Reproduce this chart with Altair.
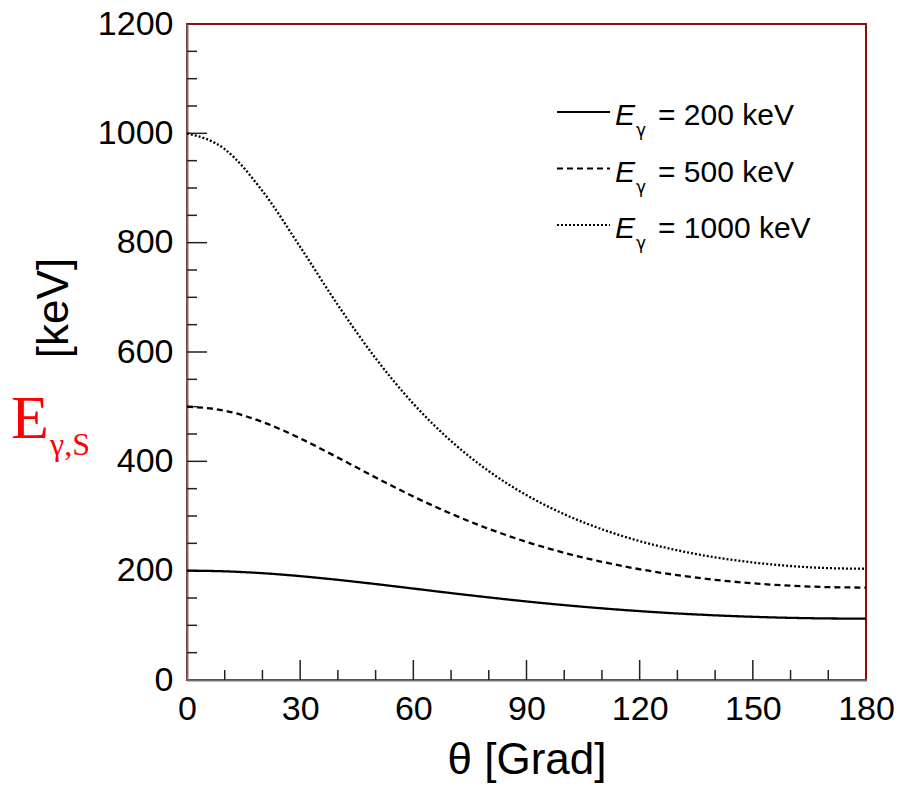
import altair as alt
import pandas as pd

# ---- data ----
theta = [0, 10, 20, 30, 40, 50, 60, 70, 80, 90, 100, 110, 120, 130, 140, 150, 160, 170, 180]
e200 = [200, 198.8, 195.4, 190.0, 183.2, 175.5, 167.3, 159.0, 151.1, 143.7, 137.0, 131.1,
        126.0, 121.7, 118.3, 115.6, 113.7, 112.6, 112.2]
e500 = [500, 492.7, 472.1, 442.0, 406.8, 370.5, 335.7, 304.2, 276.5, 252.7, 232.7, 216.2,
        202.6, 191.8, 183.3, 176.9, 172.5, 169.9, 169.1]
e1000 = [1000, 971.1, 894.5, 792.3, 685.9, 588.6, 505.4, 437.1, 382.1, 338.2, 303.3, 275.8,
         254.1, 237.2, 224.4, 215.0, 208.5, 204.7, 203.5]
series = ["200", "500", "1000"]
x_ticks = [0, 30, 60, 90, 120, 150, 180]
y_ticks = [0, 200, 400, 600, 800, 1000, 1200]

W, H = 679, 656
FONT = "Liberation Sans"

rows = []
for s, vals in zip(series, [e200, e500, e1000]):
    for t, v in zip(theta, vals):
        rows.append({"theta": t, "E": v, "series": s})
df = pd.DataFrame(rows)

xscale = alt.Scale(domain=[0, 180], nice=False, zero=False)
yscale = alt.Scale(domain=[0, 1200], nice=False)
dash_scale = alt.Scale(domain=series, range=[[1, 0], [6, 4], [2, 2]])

lines = alt.Chart(df).mark_line(color="black", strokeWidth=2.3, interpolate="monotone").encode(
    x=alt.X("theta:Q", scale=xscale,
            axis=alt.Axis(values=x_ticks, format="d", title="θ [Grad]", labelFontSize=34, labelFont=FONT,
                          labelColor="black", labelPadding=12, labelFlush=False, labelOverlap=False,
                          ticks=False, tickSize=0, grid=False, domainColor="#707070", domainWidth=2,
                          titleFont=FONT, titleFontSize=44, titleFontWeight="normal",
                          titleColor="black", titlePadding=12)),
    y=alt.Y("E:Q", scale=yscale,
            axis=alt.Axis(values=y_ticks, format="d", title=None, labelFontSize=34, labelFont=FONT,
                          labelColor="black", labelPadding=14, labelFlush=False, labelOverlap=False,
                          ticks=False, tickSize=0, grid=False, domainColor="#707070", domainWidth=2)),
    strokeDash=alt.StrokeDash("series:N", scale=dash_scale, legend=None),
    detail="series:N",
)

# inner tick marks
ymaj = pd.DataFrame({"v": [v for v in range(200, 1200, 200)]})
ymin = pd.DataFrame({"v": [v for v in range(50, 1200, 50) if v % 200 != 0]})
xmaj = pd.DataFrame({"v": [v for v in range(30, 180, 30)]})
xmin = pd.DataFrame({"v": [v for v in range(10, 180, 10) if v % 30 != 0]})

tick_style = dict(color="#222222", strokeWidth=1.5)
ymaj_t = alt.Chart(ymaj).mark_rule(**tick_style).encode(
    y=alt.Y("v:Q", scale=yscale), x=alt.value(0), x2=alt.value(20))
ymin_t = alt.Chart(ymin).mark_rule(**tick_style).encode(
    y=alt.Y("v:Q", scale=yscale), x=alt.value(0), x2=alt.value(10))
xmaj_t = alt.Chart(xmaj).mark_rule(**tick_style).encode(
    x=alt.X("v:Q", scale=xscale), y=alt.value(H), y2=alt.value(H - 20))
xmin_t = alt.Chart(xmin).mark_rule(**tick_style).encode(
    x=alt.X("v:Q", scale=xscale), y=alt.value(H), y2=alt.value(H - 10))

one = alt.Data(values=[{}])

kev = alt.Chart(one).mark_text(text="[keV]", angle=270, fontSize=44, font=FONT, color="black",
                               align="center", baseline="middle").encode(
    x=alt.value(-132), y=alt.value(284))
redE = alt.Chart(one).mark_text(text="E", fontSize=62, font="Liberation Serif", color="#ff0000",
                                align="left", baseline="alphabetic").encode(
    x=alt.value(-176), y=alt.value(414))
redSub = alt.Chart(one).mark_text(text="γ,S", fontSize=32, font="Liberation Serif", color="#ff0000",
                                  align="left", baseline="alphabetic").encode(
    x=alt.value(-137), y=alt.value(431))

# legend
leg_layers = []
for i, s in enumerate(series):
    ly = 88 + 56.5 * i
    d = [[1, 0], [6, 4], [2, 2]][i]
    leg_layers.append(alt.Chart(one).mark_rule(color="black", strokeWidth=2, strokeDash=d).encode(
        x=alt.value(370), x2=alt.value(423), y=alt.value(ly)))
    leg_layers.append(alt.Chart(one).mark_text(text="E", fontSize=30, font=FONT, fontStyle="italic",
                                               color="black", align="left").encode(
        x=alt.value(428), y=alt.value(ly + 4)))
    leg_layers.append(alt.Chart(one).mark_text(text="γ", fontSize=17, font="DejaVu Sans",
                                               color="black", align="left").encode(
        x=alt.value(449), y=alt.value(ly + 19)))
    leg_layers.append(alt.Chart(one).mark_text(text=f"= {s} keV", fontSize=30, font=FONT,
                                               color="black", align="left").encode(
        x=alt.value(471), y=alt.value(ly + 4)))

chart = alt.layer(ymaj_t, ymin_t, xmaj_t, xmin_t, lines, kev, redE, redSub, *leg_layers).properties(
    width=W, height=H,
    autosize=alt.AutoSizeParams(type="none"),
    padding={"left": 187, "top": 24, "right": 36, "bottom": 111},
    background="white",
).configure_view(stroke="#8c1010", strokeWidth=2)

chart.save("out.html", embed_options={"renderer": "svg", "actions": False})
